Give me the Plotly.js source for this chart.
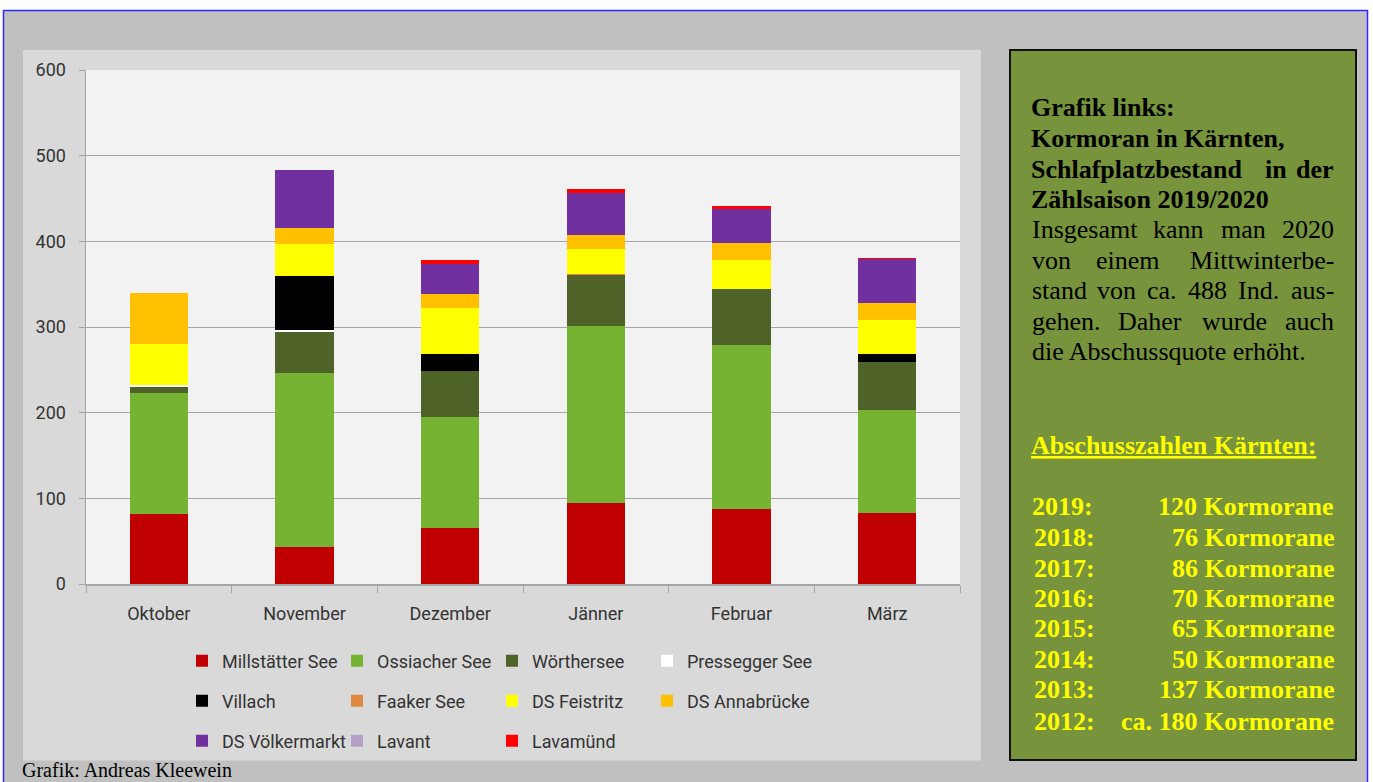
<!DOCTYPE html>
<html>
<head>
<meta charset="utf-8">
<script src="https://cdn.plot.ly/plotly-3.0.1.min.js"></script>
<style>html,body{margin:0;padding:0;background:#fff;}#chart{width:1373px;height:782px;}</style>
</head>
<body>
<div id="chart"></div>
<script>
// ---- data ----
const months = ['Oktober', 'November', 'Dezember', 'Jänner', 'Februar', 'März'];
const seriesNames = ['Millstätter See', 'Ossiacher See', 'Wörthersee', 'Pressegger See',
  'Villach', 'Faaker See', 'DS Feistritz', 'DS Annabrücke', 'DS Völkermarkt', 'Lavant', 'Lavamünd'];
const millstaetter = [82, 43, 65, 95, 87, 83];
const ossiacher   = [141, 203, 130, 206, 192, 120];
const woerthersee = [7, 48, 54, 60, 65, 56];
const pressegger  = [2, 2, 0, 0, 0, 0];
const villach     = [0, 63, 19, 0, 0, 9];
const faaker      = [0, 0, 0, 1, 0, 0];
const feistritz   = [48, 38, 54, 29, 34, 40];
const annabruecke = [60, 18, 16, 16, 20, 20];
const voelkermarkt= [0, 68, 35, 49, 40, 51];
const lavant      = [0, 0, 0, 0, 0, 0];
const lavamuend   = [0, 0, 5, 5, 3, 2];
const yTicks = [0, 100, 200, 300, 400, 500, 600];
const shootYears  = ['2019:', '2018:', '2017:', '2016:', '2015:', '2014:', '2013:', '2012:'];
const shootCounts = ['120 Kormorane', '76 Kormorane', '86 Kormorane', '70 Kormorane',
  '65 Kormorane', '50 Kormorane', '137 Kormorane', 'ca. 180 Kormorane'];

// ---- styling ----
const seriesValues = [millstaetter, ossiacher, woerthersee, pressegger, villach, faaker,
  feistritz, annabruecke, voelkermarkt, lavant, lavamuend];
const colors = ['#c00000', '#77b332', '#4f6228', '#ffffff', '#000000', '#e0883f',
  '#ffff00', '#ffc000', '#7030a0', '#b3a2c7', '#ff0000'];
const legendIds = ['legend', 'legend', 'legend', 'legend', 'legend2', 'legend2', 'legend2', 'legend2',
  'legend3', 'legend3', 'legend3'];

const L = 86, R = 960, T = 70, B = 584, W = 1373, H = 782;
const fx = px => (px - L) / (R - L);
const fy = py => (B - py) / (B - T);

const traces = seriesNames.map((name, i) => ({
  type: 'bar', name: name, x: months, y: seriesValues[i],
  marker: {color: colors[i], line: {width: 0}},
  legend: legendIds[i], hoverinfo: 'skip'
}));
// transparent zero-height legend spacers so the last legend column is not clipped
['legend', 'legend2'].forEach(lg => traces.push({
  type: 'bar', name: ' ', x: [months[0]], y: [0], legend: lg, hoverinfo: 'skip',
  marker: {color: 'rgba(0,0,0,0)', line: {width: 0}}
}));

const sansFont = 'Roboto, "Noto Sans", sans-serif';
const serif = '"Liberation Serif", "Times New Roman", serif';

function ann(text, px, py, opts) {
  opts = opts || {};
  return Object.assign({
    text: text, x: fx(px), y: fy(py), xref: 'paper', yref: 'paper',
    xanchor: opts.xanchor || 'left', yanchor: 'middle', showarrow: false,
    font: {family: serif, size: opts.size || 26, color: opts.color || '#000000'}
  }, opts.extra || {});
}

const annotations = [];
annotations.push(ann('Grafik: Andreas Kleewein', 20, 770, {size: 20}));
// heading (bold)
annotations.push(ann('<b>Grafik links:</b>', 1029, 108));
annotations.push(ann('<b>Kormoran in Kärnten,</b>', 1029, 138));
annotations.push(ann('<b>Schlafplatzbestand</b>', 1029, 169));
annotations.push(ann('<b>in</b>', 1263, 169));
annotations.push(ann('<b>der</b>', 1336, 169, {xanchor: 'right'}));
annotations.push(ann('<b>Zählsaison 2019/2020</b>', 1029, 199));
// body (justified lines as separate words)
const bodyLines = [
  {py: 229.5, words: [['Insgesamt', 1030], ['kann', 1151], ['man', 1219], ['2020', 1336, 'r']]},
  {py: 260, words: [['von', 1030], ['einem', 1094], ['Mittwinterbe-', 1336, 'r']]},
  {py: 290.5, words: [['stand', 1030], ['von', 1095], ['ca.', 1145], ['488', 1186], ['Ind.', 1236], ['aus-', 1336, 'r']]},
  {py: 321, words: [['gehen.', 1030], ['Daher', 1116], ['wurde', 1200], ['auch', 1336, 'r']]},
  {py: 351, words: [['die Abschussquote erhöht.', 1030]]}
];
bodyLines.forEach(l => l.words.forEach(w => {
  annotations.push(ann(w[0], w[1], l.py, {xanchor: w[2] === 'r' ? 'right' : 'left'}));
}));
// yellow section
const yel = '#ffff00';
annotations.push(ann('<b><u>Abschusszahlen Kärnten:</u></b>', 1029, 445, {color: yel}));
const rowY = [506.5, 537, 568, 598, 628.5, 659.5, 689.5, 721.5];
shootYears.forEach((yr, i) => {
  annotations.push(ann('<b>' + yr + '</b>', i === 0 ? 1030 : 1032, rowY[i], {color: yel}));
  annotations.push(ann('<b>' + shootCounts[i] + '</b>', i === 0 ? 1335 : 1336, rowY[i], {color: yel, xanchor: 'right'}));
});

const shapes = [
  {type: 'rect', xref: 'paper', yref: 'paper', layer: 'below',
   x0: fx(3.5), x1: fx(1367.5), y0: fy(800), y1: fy(10.5),
   fillcolor: '#c0c0c0', line: {color: '#2a2aff', width: 1.5}},
  {type: 'rect', xref: 'paper', yref: 'paper', layer: 'below',
   x0: fx(23), x1: fx(981), y0: fy(760.5), y1: fy(50),
   fillcolor: '#d9d9d9', line: {width: 0}},
  {type: 'rect', xref: 'paper', yref: 'paper', layer: 'below',
   x0: 0, x1: 1, y0: 0, y1: 1,
   fillcolor: '#f2f2f2', line: {width: 0}},
  {type: 'rect', xref: 'paper', yref: 'paper', layer: 'below',
   x0: fx(1010), x1: fx(1356), y0: fy(760), y1: fy(50),
   fillcolor: '#77933c', line: {color: '#111111', width: 2}}
];

function leg(py) {
  return {orientation: 'h', x: fx(182), xanchor: 'left', y: fy(py), yanchor: 'middle',
    entrywidth: 110, entrywidthmode: 'pixels', itemwidth: 30, traceorder: 'normal',
    bgcolor: 'rgba(0,0,0,0)', borderwidth: 0,
    font: {family: sansFont, size: 18, color: '#333333'}};
}

const layout = {
  width: W, height: H,
  margin: {l: L, r: W - R, t: T, b: H - B, pad: 0},
  paper_bgcolor: '#ffffff', plot_bgcolor: '#f2f2f2',
  barmode: 'stack', bargap: 0.6,
  showlegend: true,
  legend: leg(661), legend2: leg(701), legend3: leg(741),
  xaxis: {
    type: 'category', tickson: 'boundaries', ticks: 'outside', ticklen: 7, tickcolor: '#a6a6a6',
    showline: true, linecolor: '#a6a6a6', linewidth: 1.5, showgrid: false, zeroline: false,
    tickfont: {family: sansFont, size: 18, color: '#333333'}, ticklabelstandoff: 13,
    fixedrange: true
  },
  yaxis: {
    range: [0, 600], tickvals: yTicks, ticks: 'outside', ticklen: 6, tickcolor: '#a6a6a6',
    showline: true, linecolor: '#a6a6a6', linewidth: 1.5,
    showgrid: true, gridcolor: '#a6a6a6', gridwidth: 1, zeroline: false,
    tickfont: {family: sansFont, size: 18, color: '#333333'}, ticklabelstandoff: 9,
    fixedrange: true
  },
  shapes: shapes,
  annotations: annotations
};

Plotly.newPlot('chart', traces, layout, {staticPlot: true, displayModeBar: false});
</script>
</body>
</html>
